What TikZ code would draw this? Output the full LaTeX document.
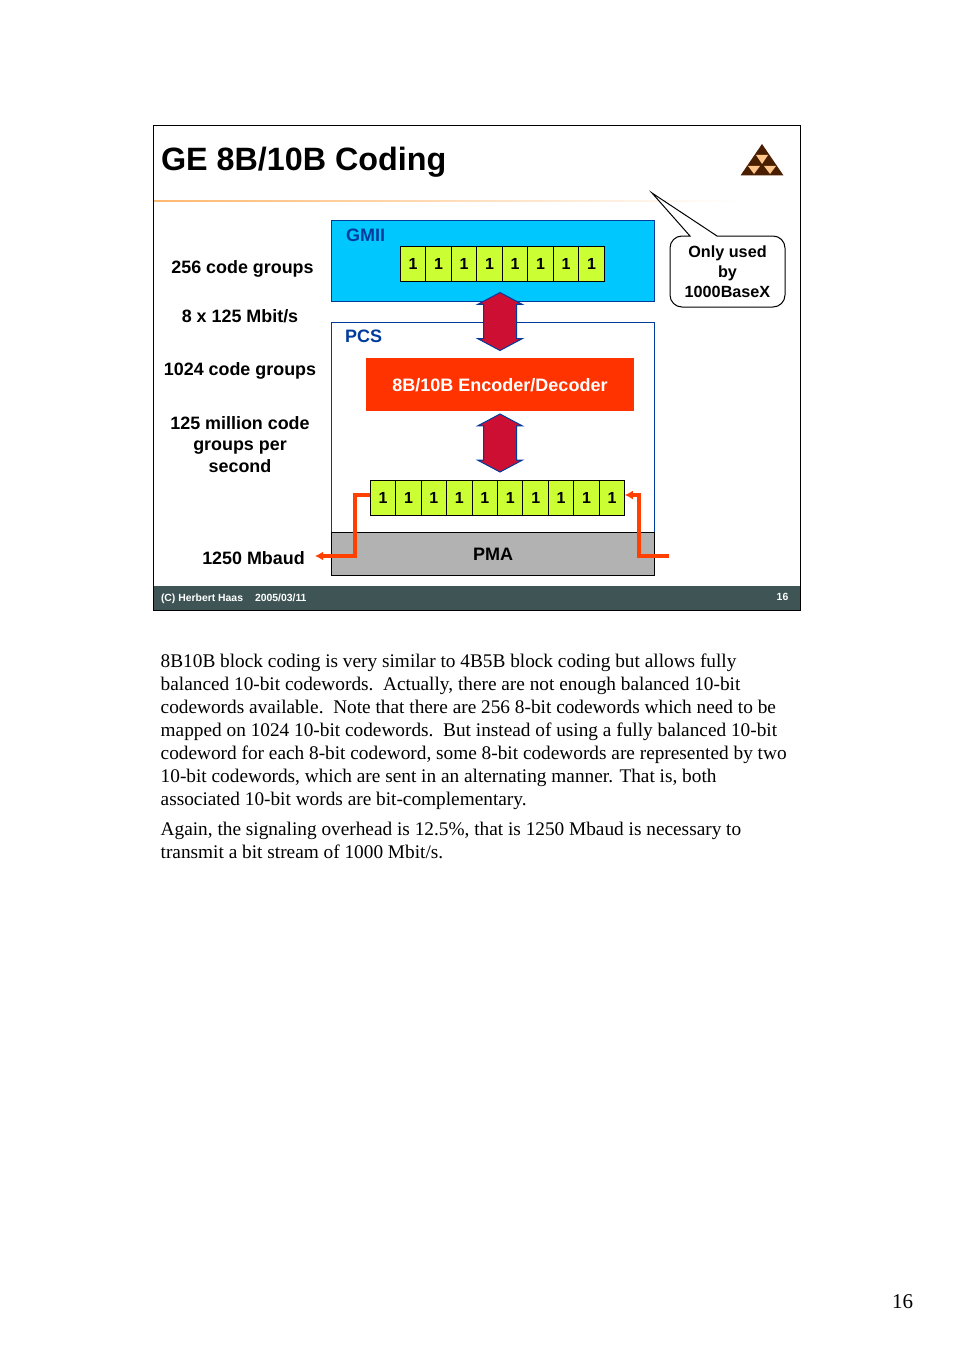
\documentclass[tikz,border=0pt]{standalone}
\usepackage{fontspec}
\setmainfont{Liberation Serif}
\newfontfamily\slidefont{Liberation Sans}
\usepackage{xcolor}
\usepackage{tikz}
\usetikzlibrary{positioning, shapes.arrows, arrows.meta}
\definecolor{layerblue}{HTML}{00C8FF}
\definecolor{edgeblue}{HTML}{003C9C}
\definecolor{bitgreen}{HTML}{CCFF33}
\definecolor{codered}{HTML}{FF3300}
\definecolor{wirered}{HTML}{FF4000}
\definecolor{swapred}{HTML}{CC0F33}
\definecolor{footgrey}{HTML}{3F5555}
\definecolor{pmagrey}{HTML}{B2B2B2}
\definecolor{logobrown}{HTML}{4A1E00}
\definecolor{logotan}{HTML}{FFC68C}

\begin{document}
\begin{tikzpicture}[
        x=1pt, y=-1pt,
        every node/.style={inner sep=0pt, outer sep=0pt},
        layer/.style={draw=edgeblue, line width=1pt, minimum width=323.5pt, anchor=north west},
        layertag/.style={font=\slidefont\bfseries\fontsize{18}{18}\selectfont, text=edgeblue, anchor=west},
        bit/.style={draw=black, line width=1pt, fill=bitgreen, minimum width=25.5pt, minimum height=35pt, font=\slidefont\bfseries\fontsize{16}{16}\selectfont},
        sidelabel/.style={font=\slidefont\bfseries\fontsize{17.9}{21.5}\selectfont, align=center},
        swap/.style={double arrow, shape border rotate=90, draw=edgeblue, fill=swapred, line width=1pt, inner sep=16pt, minimum width=45pt, minimum height=58pt, double arrow head extend=6pt, double arrow head indent=0pt, double arrow tip angle=124},
        wire/.style={-{Latex[length=8pt,width=9pt]}, wirered, line width=3.2pt},
        note/.style={font=\fontsize{19.3}{23}\selectfont, align=left, anchor=north west}
        ]
        \useasboundingbox (0,0) rectangle (954,1351);
        \fill[white] (0,0) rectangle (954,1351);

        % slide
        \node[draw=black, line width=1pt, minimum width=647pt, minimum height=485pt, anchor=north west] (slide) at (153.5,125.5) {};
        \node[fill=footgrey, minimum width=646pt, minimum height=24pt, anchor=north west] (footer) at (154,586) {};
        \shade[left color=logotan!80!orange, right color=white] (154,200.5) rectangle (740,202);
        \node[anchor=west, font=\slidefont\bfseries\fontsize{32.3}{33}\selectfont] (title) at (161,162) {GE 8B/10B Coding};
        \node[anchor=west, text=white, font=\slidefont\bfseries\fontsize{10.4}{11}\selectfont] (credit) at (161,598.5) {(C) Herbert Haas\hspace{12pt}2005/03/11};
        \node[text=white, font=\slidefont\bfseries\fontsize{10.4}{11}\selectfont] (slidenum) at (782.5,597) {16};

        % logo
        \fill[logobrown] (762,144) -- (783.5,175.5) -- (740.5,175.5) -- cycle;
        \fill[logotan] (756,155) -- (768,155) -- (762,164) -- cycle;
        \fill[logotan] (748,166) -- (760,166) -- (754,174) -- cycle;
        \fill[logotan] (764,166) -- (776,166) -- (770,174) -- cycle;

        % layers
        \node[layer, fill=layerblue, minimum height=81pt] (gmii) at (331,220) {};
        \node[layer, fill=white, minimum height=210pt] (pcs) at (331,322) {};
        \node[layer, draw=black, fill=pmagrey, minimum height=43pt] (pma) at (331,532) {};
        \node[font=\slidefont\bfseries\fontsize{18}{18}\selectfont] (pmatag) at (493,554) {PMA};
        \node[layertag] (gmiitag) at (346,235) {GMII};
        \node[layertag] (pcstag) at (345,336) {PCS};
        \node[fill=codered, text=white, minimum width=268pt, minimum height=53pt, text height=14pt, text depth=0pt, font=\slidefont\bfseries\fontsize{18}{18}\selectfont] (codec) at (500,384.5) {8B/10B Encoder/Decoder};

        % bit rows
        \node[bit] (gbit1) at (413,263.5) {1};
        \foreach \i [count=\j from 2] in {1,...,7}
            \node[bit, right=0pt of gbit\i] (gbit\j) {1};
        \node[bit, minimum width=25.45pt] (tbit1) at (383,497.5) {1};
        \foreach \i [count=\j from 2] in {1,...,9}
            \node[bit, minimum width=25.45pt, right=0pt of tbit\i] (tbit\j) {1};

        \node[swap] (swapa) at (500,321.5) {};
        \node[swap] (swapb) at (500,443) {};

        % wires
        \coordinate (txend) at (315,556);
        \coordinate (rxstart) at (669,556);
        \draw[wire] ([yshift=2.5pt]tbit1.west) -- (355,495) -- (355,556) -- (txend);
        \draw[wire] (rxstart) -- (639,556) -- (639,495) -- ([yshift=2.5pt]tbit10.east);

        % labels
        \node[sidelabel] (groups) at (242.5,269) {256 code groups};
        \node[sidelabel] (rate) at (240,316) {8 x 125 Mbit/s};
        \node[sidelabel] (kgroups) at (240,371) {1024 code groups};
        \node[sidelabel] (million) at (240,444.5) {125 million code\\groups per\\second};
        \node[sidelabel] (mbaud) at (253.5,558) {1250 Mbaud};

        % callout
        \draw[line width=1pt, fill=white] (652,193) -- (717,236) [rounded corners=12pt] -- (785,236) -- (785,307) -- (670,307) -- (670,236) [sharp corners] -- (690,236) -- cycle;
        \node[font=\slidefont\bfseries\fontsize{16.2}{20}\selectfont, align=center] (usedby) at (727.5,272) {Only used\\by\\1000BaseX};

        % text below
        \node[note] (para) at (160.7,654) {8B10B block coding is very similar to 4B5B block coding but allows fully\\balanced 10-bit codewords.\ \ Actually, there are not enough balanced 10-bit\\codewords available.\ \ Note that there are 256 8-bit codewords which need to be\\mapped on 1024 10-bit codewords.\ \ But instead of using a fully balanced 10-bit\\codeword for each 8-bit codeword, some 8-bit codewords are represented by two\\10-bit codewords, which are sent in an alternating manner. That is, both\\associated 10-bit words are bit-complementary.};
        \node[note, below=12pt of para.south west, anchor=north west] (parb) {Again, the signaling overhead is 12.5\%, that is 1250 Mbaud is necessary to\\transmit a bit stream of 1000 Mbit/s.};
        \node[font=\fontsize{21}{21}\selectfont] (pagenum) at (902.5,1302) {16};
\end{tikzpicture}
\end{document}
